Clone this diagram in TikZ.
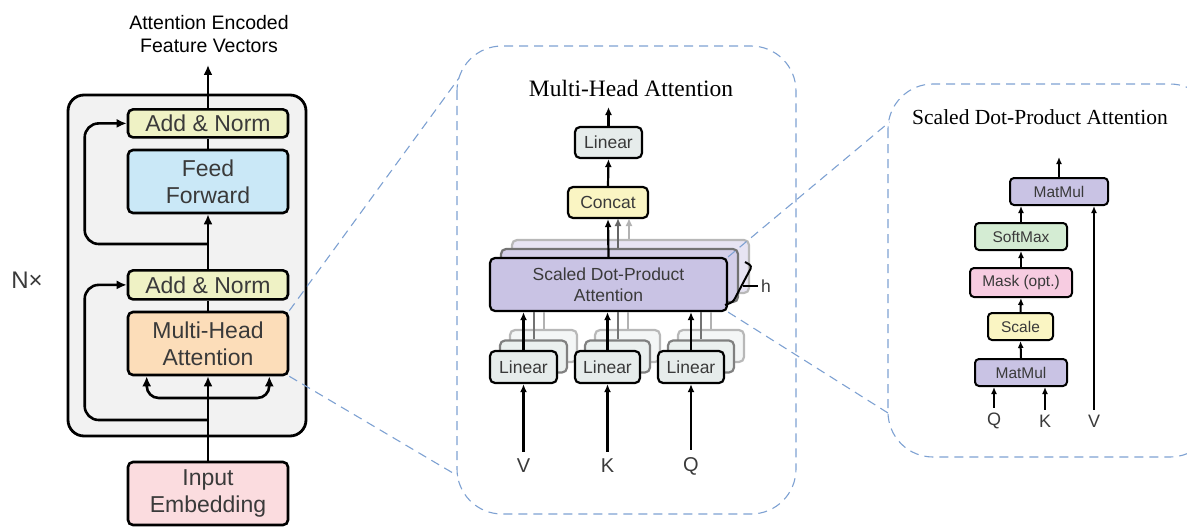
\documentclass[tikz,border=0pt]{standalone}
\usepackage{fontspec}
\setmainfont{Liberation Serif}
\setsansfont{Liberation Sans}
\usetikzlibrary{arrows.meta, positioning}

\definecolor{blockgray}{HTML}{F2F2F2}
\definecolor{normcol}{HTML}{EFF2C5}
\definecolor{ffcol}{HTML}{CAE8F7}
\definecolor{attcol}{HTML}{FCDDB9}
\definecolor{embcol}{HTML}{FBDCDF}
\definecolor{lincol}{HTML}{E6ECEB}
\definecolor{catcol}{HTML}{FAF5C3}
\definecolor{lavcol}{HTML}{C9C3E4}
\definecolor{softcol}{HTML}{D4ECD3}
\definecolor{maskcol}{HTML}{F7CCE1}
\definecolor{dashblue}{HTML}{7EA1D2}
\definecolor{txtgray}{HTML}{3A3A3A}

\begin{document}
\begin{tikzpicture}[x=1pt, y=-1pt,
        box/.style={draw, line width=2.6pt, rounded corners=5pt, align=center, inner sep=0pt,
            text=txtgray, font=\sffamily\fontsize{23}{27}\selectfont},
        mbox/.style={box, line width=2.2pt, font=\sffamily\fontsize{17.5}{21}\selectfont},
        sbox/.style={box, line width=2pt, rounded corners=4pt, font=\sffamily\fontsize{15.5}{18}\selectfont},
        ghost/.style={mbox, draw=black!50, fill=lincol!80},
        farghost/.style={mbox, draw=black!28, fill=lincol!45},
        arr/.style={line width=2.6pt, -{Latex[length=10pt, width=9pt]}},
        marr/.style={line width=2.2pt, -{Latex[length=8pt, width=7pt]}},
        sarr/.style={line width=2pt, -{Latex[length=7pt, width=6pt]}},
        lbl/.style={text=txtgray, inner sep=7pt},
        zoomline/.style={draw=dashblue, line width=1.1pt, dash pattern=on 9pt off 6pt},
    ]
    \useasboundingbox (0,0) rectangle (1187,527);
    \clip (0,0) rectangle (1187,527);

    % encoder layer
    \node[draw, line width=2.8pt, rounded corners=16pt, fill=blockgray,
        minimum width=238pt, minimum height=341pt] (layer) at (187,265.5) {};
    \node[font=\sffamily\fontsize{19.5}{23}\selectfont, align=center] (title) at (209,34) {Attention Encoded\\Feature Vectors};
    \node[text=txtgray, font=\sffamily\fontsize{24}{24}\selectfont] (nx) at (27,280) {N×};

    \node[box, fill=attcol, minimum width=160pt, minimum height=63pt] (mha) at (208,343.5) {Multi-Head\\Attention};
    \node[box, fill=normcol, minimum width=160pt, minimum height=29pt, above=10pt of mha] (an1) {Add \& Norm};
    \node[box, fill=ffcol, minimum width=160pt, minimum height=63pt] (ff) at (208,181.5) {Feed\\Forward};
    \node[box, fill=normcol, minimum width=160pt, minimum height=28pt, above=10pt of ff] (an2) {Add \& Norm};
    \node[box, fill=embcol, minimum width=160pt, minimum height=63pt] (emb) at (208,493.5) {Input\\Embedding};

    \coordinate (fork) at (208,398);
    \coordinate (res1) at (208,420);
    \coordinate (res2) at (208,244);
    \coordinate (out) at (208,65);

    \draw[arr] (emb.north) -- (mha.south);
    \draw[arr, rounded corners=12pt] (fork) -| ([xshift=20pt]mha.south west);
    \draw[arr, rounded corners=12pt] (fork) -| ([xshift=-20pt]mha.south east);
    \draw[arr, rounded corners=14pt] (res1) -| ([xshift=-42pt]an1.west) -- (an1.west);
    \draw[line width=2.6pt] (mha.north) -- (an1.south);
    \draw[arr] (an1.north) -- (ff.south);
    \draw[arr, rounded corners=14pt] (res2) -| ([xshift=-42pt]an2.west) -- (an2.west);
    \draw[line width=2.6pt] (ff.north) -- (an2.south);
    \draw[arr] (an2.north) -- (out);

    % multi-head attention
    \draw[zoomline, rounded corners=45pt] (457,46) rectangle (796,514);
    \node[font=\fontsize{23.5}{26}\selectfont] (mhtitle) at (631,88) {Multi-Head Attention};

    \node[mbox, fill=lincol, minimum width=67pt, minimum height=31pt] (lin) at (608.5,142.5) {Linear};
    \node[mbox, fill=catcol, minimum width=80pt, minimum height=31pt] (concat) at (608,202.5) {Concat};

    \node[mbox, draw=black!28, fill=lavcol!45, minimum width=237pt, minimum height=53pt] (sdpa2) at (630.5,266.5) {};
    \node[mbox, draw=black!55, fill=lavcol!80, minimum width=237pt, minimum height=53pt] (sdpa1) at (619.5,275.5) {};
    \node[mbox, fill=lavcol, minimum width=237pt, minimum height=53pt] (sdpa) at (608.5,284.5) {Scaled Dot-Product\\Attention};

    \node[farghost, minimum width=67pt, minimum height=32pt] (lv2) at (543.5,346) {};
    \node[ghost, minimum width=67pt, minimum height=32pt] (lv1) at (533.5,356.5) {};
    \node[mbox, fill=lincol, minimum width=67pt, minimum height=32pt] (lv) at (523.5,367) {Linear};
    \node[farghost, minimum width=65pt, minimum height=32pt] (lk2) at (627.5,346) {};
    \node[ghost, minimum width=65pt, minimum height=32pt] (lk1) at (617.5,356.5) {};
    \node[mbox, fill=lincol, minimum width=65pt, minimum height=32pt] (lk) at (607.5,367) {Linear};
    \node[farghost, minimum width=66pt, minimum height=32pt] (lq2) at (711,346) {};
    \node[ghost, minimum width=66pt, minimum height=32pt] (lq1) at (701,356.5) {};
    \node[mbox, fill=lincol, minimum width=66pt, minimum height=32pt] (lq) at (691,367) {Linear};

    \node[lbl, font=\sffamily\fontsize{20}{20}\selectfont] (v) at (523.5,466) {V};
    \node[lbl, font=\sffamily\fontsize{20}{20}\selectfont] (k) at (607.5,466) {K};
    \node[lbl, font=\sffamily\fontsize{20}{20}\selectfont] (q) at (691,466) {Q};

    \draw[marr] (v.north) -- (lv.south);
    \draw[marr] (k.north) -- (lk.south);
    \draw[marr] (q.north) -- (lq.south);
    \draw[line width=2pt, black!30] (lv2.north) -- (lv2.north |- sdpa.south);
    \draw[line width=2pt, black!55] (lv1.north) -- (lv1.north |- sdpa.south);
    \draw[line width=2pt, black!30] (lk2.north) -- (lk2.north |- sdpa.south);
    \draw[line width=2pt, black!55] (lk1.north) -- (lk1.north |- sdpa.south);
    \draw[line width=2pt, black!30] (lq2.north) -- (lq2.north |- sdpa.south);
    \draw[line width=2pt, black!55] (lq1.north) -- (lq1.north |- sdpa.south);
    \draw[marr] (lv.north) -- (lv.north |- sdpa.south);
    \draw[marr] (lk.north) -- (lk.north |- sdpa.south);
    \draw[marr] (lq.north) -- (lq.north |- sdpa.south);

    \draw[marr, black!30] (sdpa2.north -| 629,0) -- (629,218);
    \draw[marr, black!60] (sdpa1.north -| 618,0) -- (618,218);
    \draw[marr] (sdpa.north) -- (concat.south);
    \draw[marr] (concat.north) -- (lin.south);
    \draw[marr] (lin.north) -- (608.5,107);

    \node[text=txtgray, font=\sffamily\fontsize{17.5}{20}\selectfont] (h) at (766,286) {h};
    \draw[line width=2pt, rounded corners=3pt] (745,262) -- (752,266) -- (733,302) -- (725,305);
    \draw[line width=1.6pt] (743,286) -- (h.west);

    % scaled dot-product attention
    \draw[zoomline, rounded corners=45pt] (888,84) rectangle (1215,457);
    \node[font=\fontsize{21.5}{24}\selectfont] (sdtitle) at (1040,117) {Scaled Dot-Product Attention};

    \node[sbox, fill=lavcol, minimum width=98pt, minimum height=27pt] (mm2) at (1059,191.5) {MatMul};
    \node[sbox, fill=softcol, minimum width=92pt, minimum height=27pt] (soft) at (1021,236.5) {SoftMax};
    \node[sbox, fill=maskcol, minimum width=102pt, minimum height=29pt] (mask) at (1021,282.5) {Mask (opt.)};
    \node[sbox, fill=catcol, minimum width=65pt, minimum height=27pt] (scale) at (1020.5,326.5) {Scale};
    \node[sbox, fill=lavcol, minimum width=92pt, minimum height=27pt] (mm1) at (1021,372.5) {MatMul};

    \node[lbl, inner sep=5pt, font=\sffamily\fontsize{18}{18}\selectfont] (sq) at (994,421) {Q};
    \node[lbl, inner sep=5pt, font=\sffamily\fontsize{18}{18}\selectfont] (sk) at (1045,421) {K};
    \node[lbl, inner sep=5pt, font=\sffamily\fontsize{18}{18}\selectfont] (sv) at (1094,421) {V};

    \draw[sarr] (sq.north) -- (sq.north |- mm1.south);
    \draw[sarr] (sk.north) -- (sk.north |- mm1.south);
    \draw[sarr] (sv.north) -- (sv.north |- mm2.south);
    \draw[sarr] (mm1.north) -- (scale.south);
    \draw[sarr] (scale.north) -- (mask.south);
    \draw[sarr] (mask.north) -- (soft.south);
    \draw[sarr] (soft.north) -- (soft.north |- mm2.south);
    \draw[sarr] (mm2.north) -- (1059,157);

    % zoom lines
    \coordinate (mhtop) at (459,78);
    \coordinate (mhbot) at (458,476);
    \coordinate (sdtop) at (889.5,122);
    \coordinate (sdbot) at (888,413);
    \draw[zoomline] (mha.north east) -- (mhtop);
    \draw[zoomline] (mha.south east) -- (mhbot);
    \draw[zoomline] (sdpa.north east) -- (sdtop);
    \draw[zoomline] (sdpa.south east) -- (sdbot);
\end{tikzpicture}
\end{document}
